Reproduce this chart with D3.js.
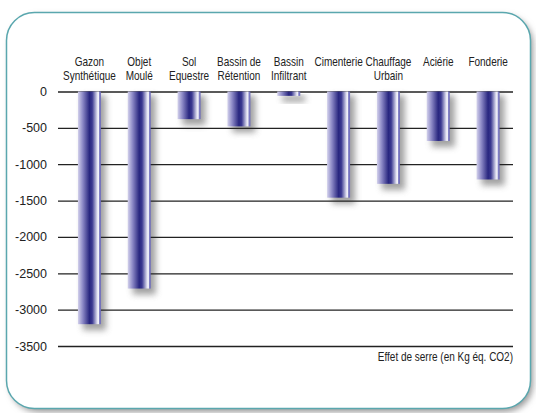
<!DOCTYPE html>
<html><head><meta charset="utf-8">
<script src="https://cdn.jsdelivr.net/npm/d3@7"></script>
<style>body{margin:0;background:#fff}svg{display:block}</style>
</head><body>
<script>
const categories = ["Gazon|Synthétique","Objet|Moulé","Sol|Equestre","Bassin de|Rétention","Bassin|Infiltrant","Cimenterie","Chauffage|Urbain","Aciérie","Fonderie"];
const values = [-3200,-2710,-380,-480,-60,-1460,-1270,-680,-1210];
const tickValues = [0,-500,-1000,-1500,-2000,-2500,-3000,-3500];
const axisTitle = "Effet de serre (en Kg éq. CO2)";

const W=536,H=413;
const FONT="'Liberation Sans',Arial,sans-serif";
const svg=d3.select("body").append("svg").attr("width",W).attr("height",H);
const defs=svg.append("defs");
const fs=defs.append("filter").attr("id","fshadow").attr("x","-20%").attr("y","-20%").attr("width","150%").attr("height","150%");
fs.append("feGaussianBlur").attr("stdDeviation",3);
const fb=defs.append("filter").attr("id","bshadow").attr("x","-50%").attr("y","-10%").attr("width","200%").attr("height","130%");
fb.append("feGaussianBlur").attr("stdDeviation",3);
const g=defs.append("linearGradient").attr("id","bar").attr("x1","0").attr("x2","1").attr("y1","0").attr("y2","0");
[[0,"#d4d2ec"],[0.2,"#8f8cc8"],[0.5,"#28267f"],[0.62,"#3a3890"],[0.85,"#e6e6f4"],[0.9,"#f4f4fb"],[0.93,"#8886c8"],[1,"#6866b8"]]
.forEach(([o,c])=>g.append("stop").attr("offset",o).attr("stop-color",c));

// frame
svg.append("rect").attr("x",10).attr("y",16).attr("width",523).attr("height",396).attr("rx",28)
  .attr("fill","#9a9a9a").attr("filter","url(#fshadow)");
svg.append("rect").attr("x",6.5).attr("y",12.5).attr("width",524).attr("height",396).attr("rx",28)
  .attr("fill","#fff").attr("stroke","#5aa7ae").attr("stroke-width",1.5);

const x=d3.scaleBand().domain(categories).range([64.5,513]).padding(0);
const y=d3.scaleLinear().domain([0,-3500]).range([91.5,346]);
const bw=23;

// shadows
svg.append("g").selectAll("rect").data(values).join("rect")
  .attr("x",(d,i)=>x(categories[i])+x.bandwidth()/2-bw/2+5)
  .attr("y",y(0)+4).attr("width",bw).attr("height",d=>y(d)-y(0)+2)
  .attr("fill","#8a8a8a").attr("opacity",0.8).attr("filter","url(#bshadow)");

// grid lines
const ax=d3.axisLeft(y).tickValues(tickValues).tickSize(-(513-58)).tickPadding(10).tickFormat(d=>String(d));
const ag=svg.append("g").attr("transform","translate(58,0)").call(ax);
ag.select(".domain").remove();
ag.selectAll(".tick line").attr("stroke","#222").attr("stroke-width",1.3);
ag.selectAll(".tick text").attr("font-family",FONT)
  .attr("font-size",12.5).attr("fill","#222").attr("x",-11);

// bars
svg.append("g").selectAll("rect").data(values).join("rect")
  .attr("x",(d,i)=>x(categories[i])+x.bandwidth()/2-bw/2)
  .attr("y",y(0)).attr("width",bw).attr("height",d=>y(d)-y(0))
  .attr("fill","url(#bar)");

// category labels (condensed)
const lab=svg.append("g").attr("font-family",FONT)
  .attr("font-size",12.5).attr("fill","#222").attr("text-anchor","middle");
categories.forEach(c=>{
  const cx=x(c)+x.bandwidth()/2;
  const t=lab.append("text").attr("transform",`translate(${cx},66) scale(0.8,1)`);
  c.split("|").forEach((s,k)=>t.append("tspan").attr("x",0).attr("y",k?14.5:0).text(s));
});

svg.append("text").attr("transform","translate(513,361) scale(0.8,1)").attr("text-anchor","end")
  .attr("font-family",FONT)
  .attr("font-size",12.5).attr("fill","#222").text(axisTitle);
</script>
</body></html>
